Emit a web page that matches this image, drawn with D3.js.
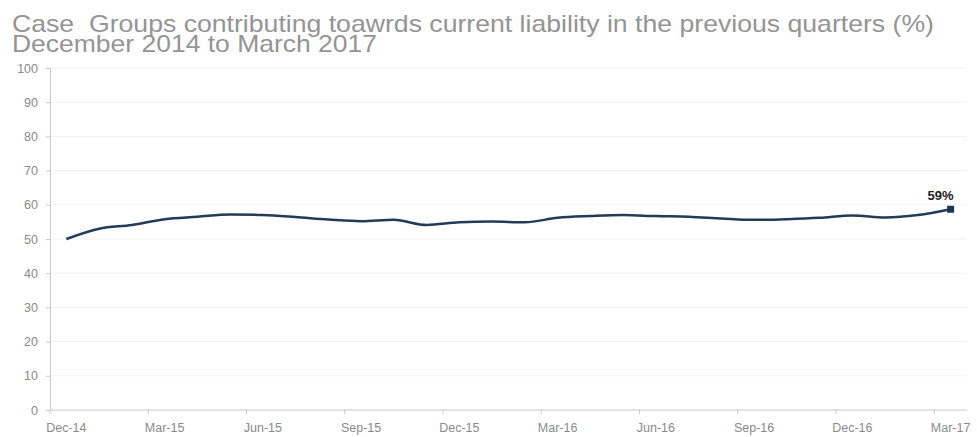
<!doctype html>
<html lang="en">
<head>
<meta charset="utf-8">
<script src="https://cdn.jsdelivr.net/npm/d3@7"></script>
<style>
  body { margin: 0; background: #fff; }
  text { font-family: "Liberation Sans", Arial, sans-serif; }
</style>
</head>
<body>
<svg width="977" height="437"></svg>
<script>

var months = ["Dec-14","Jan-15","Feb-15","Mar-15","Apr-15","May-15","Jun-15","Jul-15","Aug-15",
  "Sep-15","Oct-15","Nov-15","Dec-15","Jan-16","Feb-16","Mar-16","Apr-16","May-16","Jun-16",
  "Jul-16","Aug-16","Sep-16","Oct-16","Nov-16","Dec-16","Jan-17","Feb-17","Mar-17"];

var share = [50.0, 53.0, 54.1, 55.8, 56.5, 57.2, 57.0, 56.4, 55.7, 55.2, 55.6, 54.1, 54.9, 55.1,
  54.9, 56.2, 56.7, 57.0, 56.7, 56.5, 56.0, 55.6, 55.8, 56.2, 56.9, 56.3, 57.0, 58.7];

var yTicks = [0, 10, 20, 30, 40, 50, 60, 70, 80, 90, 100];
var titleLines = ["Case  Groups contributing toawrds current liability in the previous quarters (%)",
  "December 2014 to March 2017"];

var svg = d3.select("svg");

var margin = {left: 50, right: 967, top: 68, bottom: 410};

var x = d3.scaleBand().domain(months).range([margin.left, margin.right]);
var y = d3.scaleLinear().domain([0, 100]).range([margin.bottom, margin.top]);

// title
svg.append("text")
    .attr("x", 12).attr("y", 32)
    .attr("font-size", 24)
    .attr("fill", "#949494")
    .attr("textLength", 922)
    .attr("lengthAdjust", "spacingAndGlyphs")
    .style("white-space", "pre")
    .text(titleLines[0]);
svg.append("text")
    .attr("x", 12).attr("y", 52)
    .attr("font-size", 24)
    .attr("fill", "#949494")
    .attr("textLength", 365)
    .attr("lengthAdjust", "spacingAndGlyphs")
    .text(titleLines[1]);

// gridlines
svg.append("g")
  .selectAll("line")
  .data(yTicks.slice(1))
  .join("line")
    .attr("x1", margin.left).attr("x2", margin.right)
    .attr("y1", function(d) { return y(d); })
    .attr("y2", function(d) { return y(d); })
    .attr("stroke", "#f1f1f1");

// y axis
var yAxis = svg.append("g")
    .attr("transform", "translate(" + margin.left + ",0)")
    .call(d3.axisLeft(y).tickValues(yTicks).tickSize(4).tickPadding(8));
yAxis.select(".domain").attr("stroke", "#c8c8c8");
yAxis.selectAll(".tick line").attr("stroke", "#c8c8c8");
yAxis.selectAll("text").attr("fill", "#8a8a8a").attr("font-size", 12.5)
    .attr("font-family", "'Liberation Sans', Arial, sans-serif");

// x axis: ticks sit between categories, labels every third month
var every3 = months.filter(function(d, i) { return i % 3 === 0; });
var xAxis = svg.append("g").attr("transform", "translate(0," + margin.bottom + ")");
xAxis.append("line")
    .attr("x1", margin.left).attr("x2", margin.right)
    .attr("stroke", "#c8c8c8");
xAxis.selectAll(".tk")
  .data(every3)
  .join("line")
    .attr("class", "tk")
    .attr("x1", function(d) { return x(d); })
    .attr("x2", function(d) { return x(d); })
    .attr("y1", 0).attr("y2", 4)
    .attr("stroke", "#c8c8c8");
xAxis.selectAll("text")
  .data(every3)
  .join("text")
    .attr("x", function(d) { return x(d) + x.bandwidth() / 2; })
    .attr("y", 22)
    .attr("text-anchor", "middle")
    .attr("font-size", 12.5)
    .attr("fill", "#8a8a8a")
    .text(function(d) { return d; });

// line
var line = d3.line()
    .x(function(d, i) { return x(months[i]) + x.bandwidth() / 2; })
    .y(function(d) { return y(d); })
    .curve(d3.curveMonotoneX);

svg.append("path")
    .datum(share)
    .attr("d", line)
    .attr("fill", "none")
    .attr("stroke", "#213b58")
    .attr("stroke-width", 2.5);

// last point marker + label
var lastI = share.length - 1;
var lx = x(months[lastI]) + x.bandwidth() / 2, ly = y(share[lastI]);
svg.append("rect")
    .attr("x", lx - 3.5).attr("y", ly - 3.5)
    .attr("width", 7).attr("height", 7)
    .attr("fill", "#1d3552");
svg.append("text")
    .attr("x", lx - 10).attr("y", ly - 9)
    .attr("text-anchor", "middle")
    .attr("font-size", 13)
    .attr("font-weight", "bold")
    .attr("fill", "#222")
    .text(Math.round(share[lastI]) + "%");

</script>
</body>
</html>
